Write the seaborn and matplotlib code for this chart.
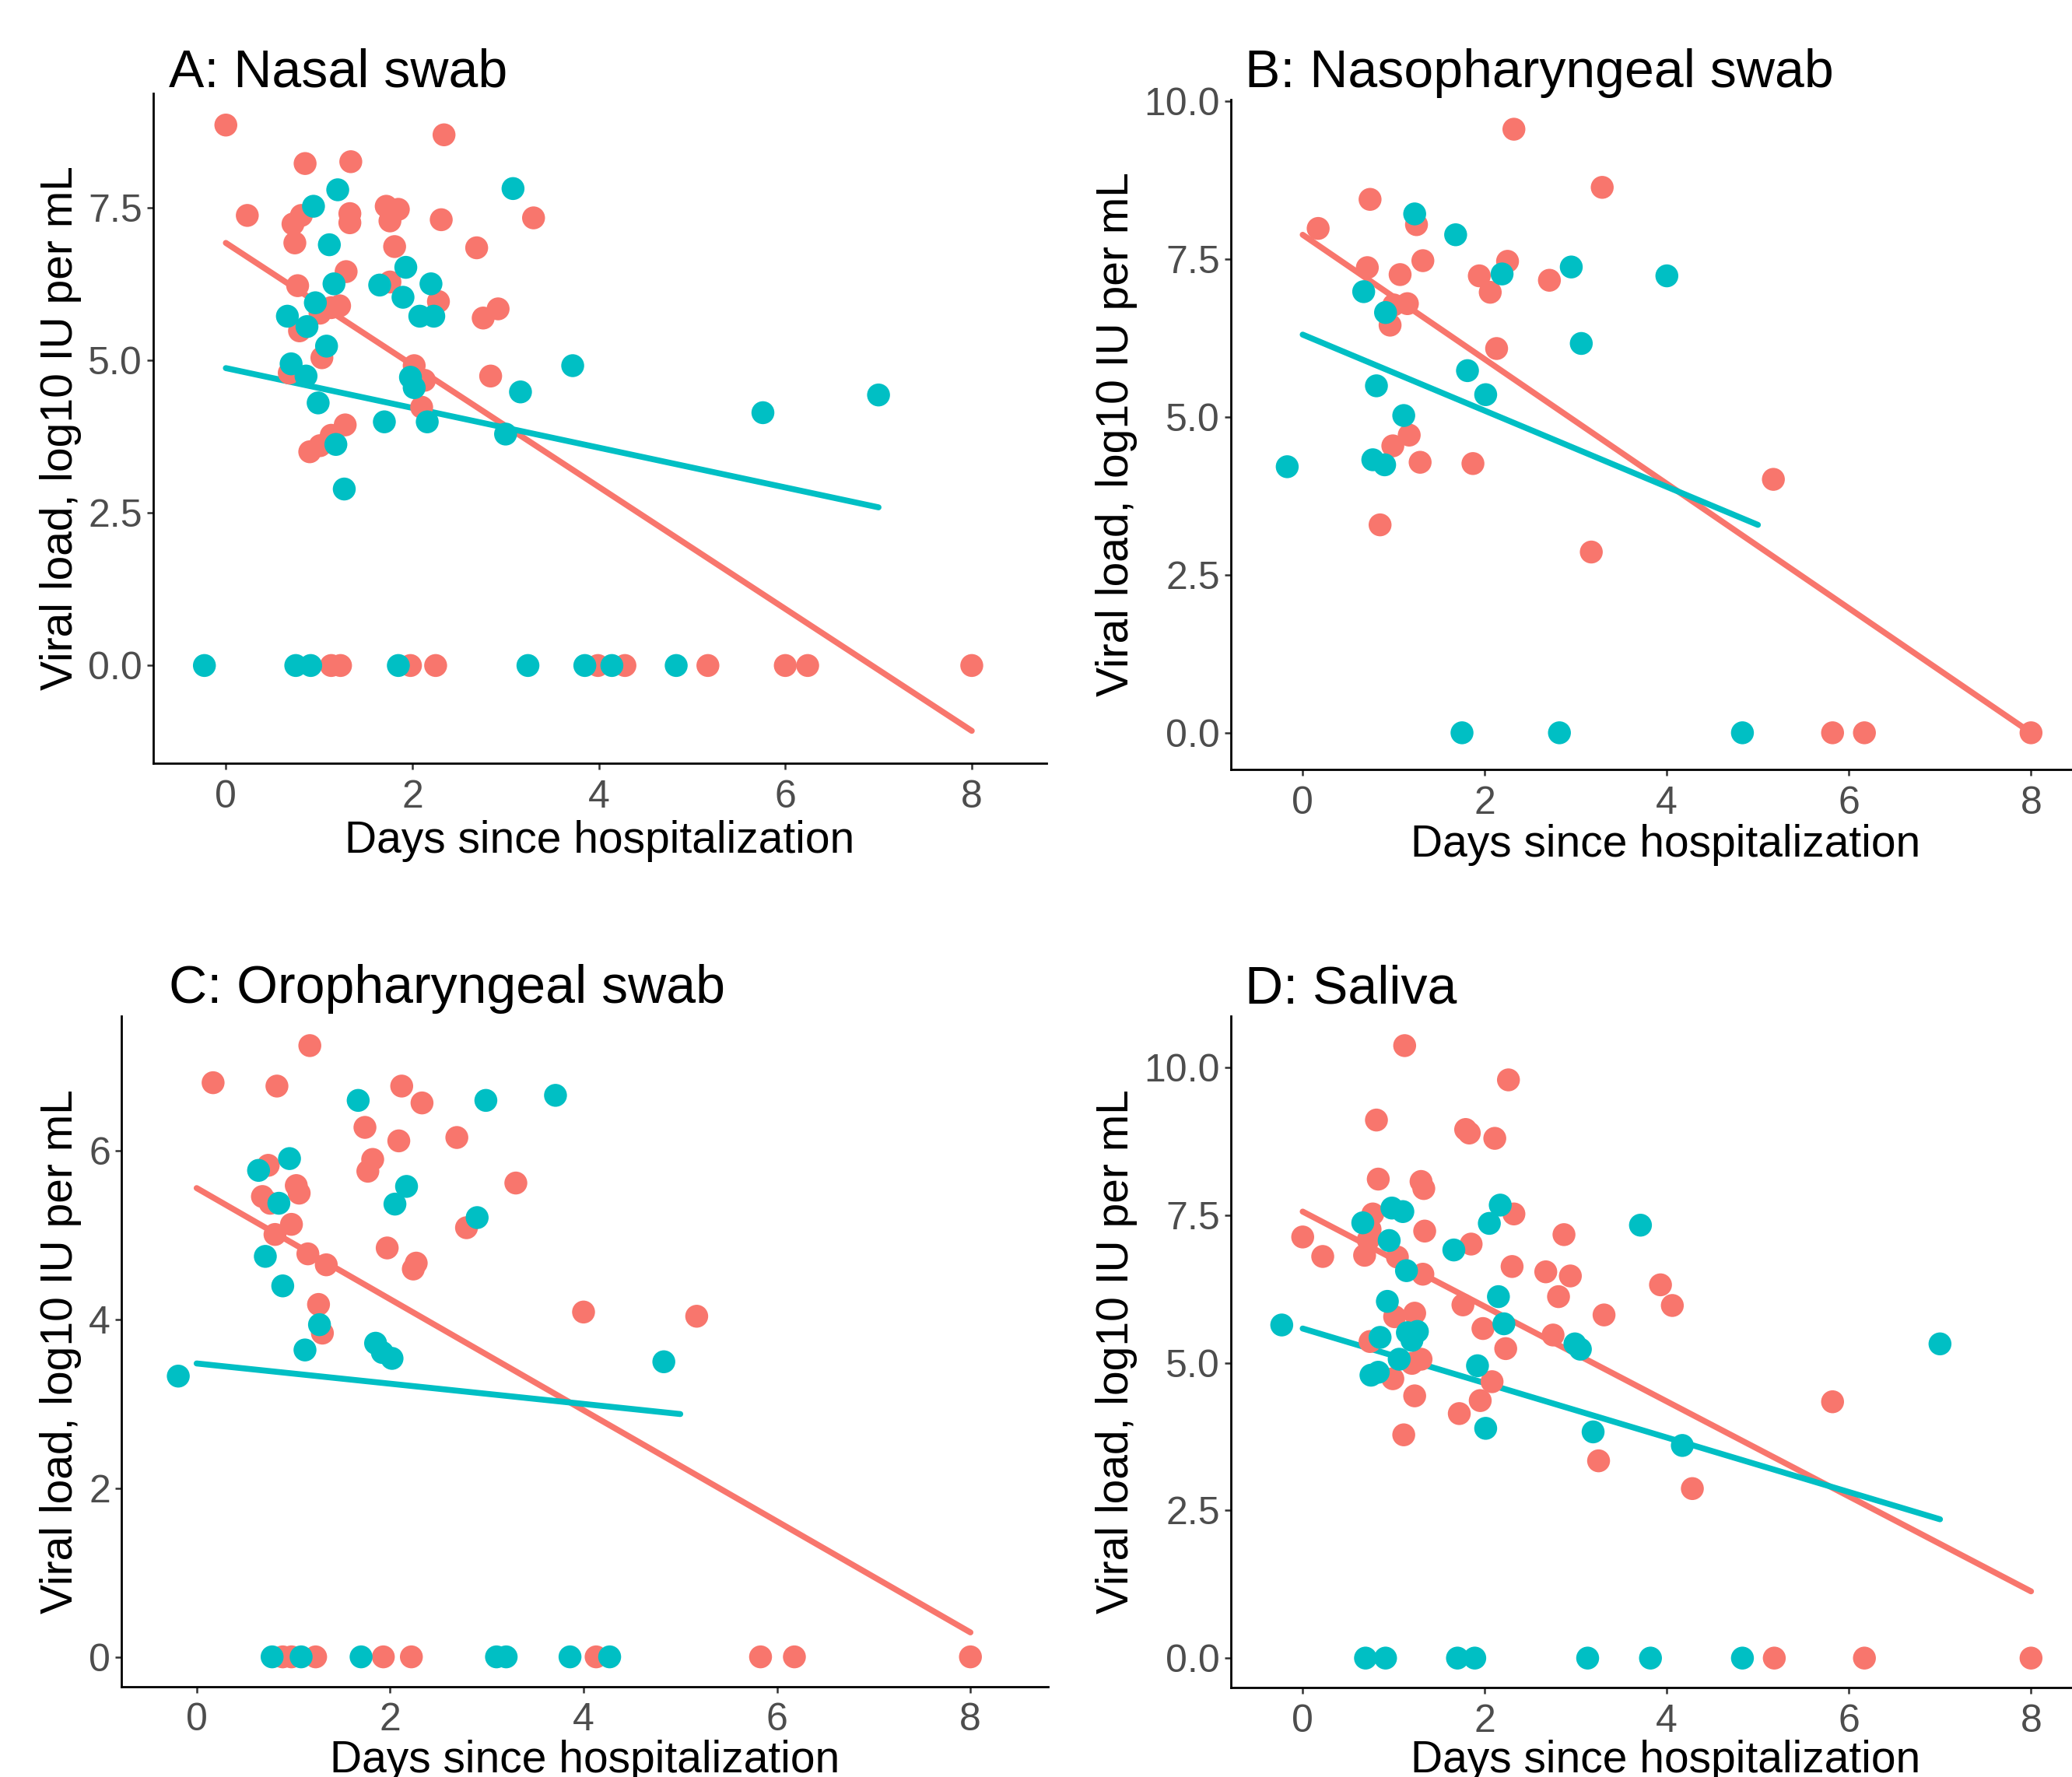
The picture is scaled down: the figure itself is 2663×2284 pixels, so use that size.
import matplotlib
matplotlib.use("Agg")
import matplotlib.pyplot as plt
import seaborn as sns
import pandas as pd

# ---------------- data ----------------
groups = ["Group 1", "Group 2"]
palette = {"Group 1": "#F8766D", "Group 2": "#00BFC4"}

# A: Nasal swab
nasal_g1_day = [0.00, 2.34, 0.85, 1.34, 0.23, 0.72, 0.81, 0.74, 1.33, 1.33, 1.72, 1.85, 1.76, 2.31, 3.30,
                1.81, 2.69, 1.29, 0.77, 1.76, 1.22, 1.13, 1.01, 0.79, 2.28, 2.76, 2.92, 1.03, 0.68, 2.02,
                2.13, 2.84, 2.10, 1.28, 1.13, 1.01, 0.90,
                1.13, 1.23, 1.98, 2.25, 3.99, 4.28, 5.17, 6.00, 6.24, 8.00]
nasal_g1_load = [8.85, 8.69, 8.22, 8.25, 7.37, 7.23, 7.37, 6.92, 7.40, 7.25, 7.52, 7.47, 7.28, 7.30, 7.33,
                 6.86, 6.84, 6.45, 6.22, 6.28, 5.89, 5.86, 5.77, 5.48, 5.96, 5.69, 5.84, 5.04, 4.79, 4.91,
                 4.67, 4.74, 4.23, 3.94, 3.77, 3.60, 3.50,
                 0, 0, 0, 0, 0, 0, 0, 0, 0, 0]
nasal_g2_day = [1.20, 0.94, 3.08, 1.11, 1.93, 1.65, 1.16, 2.20, 1.90, 0.96, 0.66, 0.87, 2.08, 2.23, 1.08,
                0.70, 0.86, 1.98, 2.02, 3.72, 3.16, 0.99, 1.70, 2.16, 3.00, 1.18, 1.27, 5.76, 7.00,
                -0.23, 0.75, 0.91, 1.85, 3.24, 3.85, 4.14, 4.83]
nasal_g2_load = [7.79, 7.52, 7.81, 6.89, 6.52, 6.23, 6.25, 6.25, 6.03, 5.94, 5.72, 5.55, 5.72, 5.72, 5.23,
                 4.94, 4.74, 4.72, 4.55, 4.91, 4.48, 4.30, 3.99, 3.99, 3.79, 3.62, 2.89, 4.14, 4.43,
                 0, 0, 0, 0, 0, 0, 0, 0]
nasal_fit_g1_day, nasal_fit_g1 = [0, 8], [6.92, -1.07]
nasal_fit_g2_day, nasal_fit_g2 = [0, 7], [4.87, 2.59]

# B: Nasopharyngeal swab
np_g1_day = [2.32, 3.29, 0.74, 0.17, 1.25, 0.71, 1.32, 1.07, 2.25, 1.94, 2.06, 2.71, 1.15, 1.00, 0.96,
             2.13, 1.17, 0.99, 1.29, 1.87, 5.17, 0.85, 3.17, 5.82, 6.17, 8.00]
np_g1_load = [9.55, 8.63, 8.44, 7.98, 8.04, 7.36, 7.47, 7.25, 7.46, 7.23, 6.97, 7.16, 6.79, 6.77, 6.45,
              6.08, 4.71, 4.54, 4.28, 4.26, 4.01, 3.29, 2.86, 0, 0, 0]
np_g2_day = [1.23, 1.68, 2.95, 2.19, 4.00, 0.67, 0.91, 3.06, 1.81, 0.81, 2.01, 1.11, -0.17, 0.77, 0.90,
             1.75, 2.82, 4.83]
np_g2_load = [8.21, 7.88, 7.37, 7.26, 7.23, 6.98, 6.65, 6.16, 5.73, 5.49, 5.35, 5.02, 4.21, 4.32, 4.24,
              0, 0, 0]
np_fit_g1_day, np_fit_g1 = [0, 8], [7.88, 0.0]
np_fit_g2_day, np_fit_g2 = [0, 5], [6.30, 3.29]

# C: Oropharyngeal swab
op_g1_day = [1.17, 0.17, 0.83, 2.12, 2.33, 1.74, 2.09, 2.69, 1.82, 1.77, 0.74, 3.30, 1.03, 1.06, 0.68,
             0.76, 0.98, 0.81, 2.79, 1.97, 1.15, 1.34, 2.27, 2.24, 1.26, 1.30, 4.00, 5.17,
             0.89, 0.98, 1.23, 1.93, 2.22, 4.13, 5.83, 6.18, 8.00]
op_g1_load = [7.25, 6.81, 6.77, 6.77, 6.57, 6.28, 6.12, 6.16, 5.90, 5.76, 5.83, 5.62, 5.59, 5.50, 5.46,
              5.38, 5.13, 5.01, 5.09, 4.85, 4.78, 4.65, 4.67, 4.60, 4.18, 3.84, 4.09, 4.04,
              0, 0, 0, 0, 0, 0, 0, 0, 0]
op_g2_day = [1.67, 2.99, 3.71, 0.96, 0.64, 2.17, 0.85, 2.05, 2.90, 0.71, 0.89, 1.27, 1.12, 1.85, 1.92,
             2.02, 4.83, -0.19, 0.78, 1.08, 1.70, 3.10, 3.20, 3.86, 4.27]
op_g2_load = [6.60, 6.60, 6.66, 5.91, 5.77, 5.58, 5.38, 5.37, 5.21, 4.75, 4.40, 3.94, 3.64, 3.72, 3.61,
              3.54, 3.50, 3.33, 0, 0, 0, 0, 0, 0, 0]
op_fit_g1_day, op_fit_g1 = [0, 8], [5.56, 0.29]
op_fit_g2_day, op_fit_g2 = [0, 5], [3.48, 2.88]

# D: Saliva
sal_g1_day = [1.12, 2.26, 0.81, 1.79, 1.83, 2.11, 0.83, 1.30, 1.33, 0.77, 2.32, 0.74, 0.72, 0.00, 1.34,
              2.87, 1.85, 0.68, 0.22, 1.04, 2.30, 1.32, 2.67, 2.94, 2.81, 3.93, 4.06, 1.76, 3.31, 1.01,
              1.23, 1.98, 2.75, 0.74, 2.23, 1.20, 1.30, 0.99, 2.08, 1.95, 1.23, 1.72, 5.82, 1.11, 3.25,
              4.28, 5.18, 6.17, 8.00]
sal_g1_load = [10.37, 9.79, 9.11, 8.95, 8.89, 8.80, 8.11, 8.07, 7.95, 7.52, 7.52, 7.26, 7.08, 7.13, 7.23,
               7.17, 7.01, 6.82, 6.80, 6.79, 6.63, 6.50, 6.54, 6.47, 6.12, 6.32, 5.97, 5.98, 5.81, 5.78,
               5.84, 5.58, 5.47, 5.36, 5.24, 4.99, 5.06, 4.73, 4.68, 4.36, 4.44, 4.14, 4.34, 3.78, 3.34,
               2.87, 0, 0, 0]
sal_g2_day = [0.98, 1.10, 2.17, 0.66, 2.05, 3.71, 0.95, 1.66, 1.14, 0.93, 2.15, 2.21, -0.23, 1.15, 1.26,
              1.20, 0.85, 2.99, 3.05, 7.00, 1.06, 1.92, 0.75, 0.83, 2.01, 3.19, 4.17,
              0.69, 0.91, 1.70, 1.89, 3.13, 3.82, 4.83]
sal_g2_load = [7.62, 7.56, 7.67, 7.37, 7.36, 7.33, 7.07, 6.91, 6.56, 6.04, 6.12, 5.66, 5.64, 5.51, 5.53,
               5.38, 5.43, 5.32, 5.23, 5.32, 5.06, 4.95, 4.79, 4.84, 3.89, 3.83, 3.60,
               0, 0, 0, 0, 0, 0, 0]
sal_fit_g1_day, sal_fit_g1 = [0, 8], [7.56, 1.13]
sal_fit_g2_day, sal_fit_g2 = [0, 7], [5.58, 2.35]

titles = ["A: Nasal swab", "B: Nasopharyngeal swab", "C: Oropharyngeal swab", "D: Saliva"]
x_label = "Days since hospitalization"
y_label = "Viral load, log10 IU per mL"
x_ticks = [0, 2, 4, 6, 8]
y_ticks_a = [0.0, 2.5, 5.0, 7.5]
y_ticks_bd = [0.0, 2.5, 5.0, 7.5, 10.0]
y_ticks_c = [0, 2, 4, 6]

# ---------------- style ----------------
sns.set_theme(style="ticks")
plt.rcParams["font.family"] = ["Liberation Sans", "DejaVu Sans"]

W, H = 2663, 2284
fig = plt.figure(figsize=(W / 100, H / 100), dpi=100)

panels = [
    dict(d1=(nasal_g1_day, nasal_g1_load), d2=(nasal_g2_day, nasal_g2_load),
         f1=(nasal_fit_g1_day, nasal_fit_g1), f2=(nasal_fit_g2_day, nasal_fit_g2),
         rect=(0.0739, 0.5705, 0.505 - 0.0739, 0.9475 - 0.5705), xlim=(-0.78, 8.80), ylim=(-1.60, 9.37),
         yticks=y_ticks_a, yfmt="{:.1f}", title_xy=(0.0813, 0.951), xl=(0.5, -0.085), yl=(-0.080, 0.5)),
    dict(d1=(np_g1_day, np_g1_load), d2=(np_g2_day, np_g2_load),
         f1=(np_fit_g1_day, np_fit_g1), f2=(np_fit_g2_day, np_fit_g2),
         rect=(0.594, 0.567, 0.406, 0.944 - 0.567), xlim=(-0.79, 8.45), ylim=(-0.58, 10.02),
         yticks=y_ticks_bd, yfmt="{:.1f}", title_xy=(0.601, 0.951), xl=(0.517, -0.081), yl=(-0.111, 0.5)),
    dict(d1=(op_g1_day, op_g1_load), d2=(op_g2_day, op_g2_load),
         f1=(op_fit_g1_day, op_fit_g1), f2=(op_fit_g2_day, op_fit_g2),
         rect=(0.0585, 0.051, 0.5057 - 0.0585, 0.4282 - 0.051), xlim=(-0.78, 8.80), ylim=(-0.35, 7.60),
         yticks=y_ticks_c, yfmt="{:.0f}", title_xy=(0.0813, 0.4356), xl=(0.5, -0.080), yl=(-0.043, 0.5)),
    dict(d1=(sal_g1_day, sal_g1_load), d2=(sal_g2_day, sal_g2_load),
         f1=(sal_fit_g1_day, sal_fit_g1), f2=(sal_fit_g2_day, sal_fit_g2),
         rect=(0.594, 0.0503, 0.406, 0.4282 - 0.0503), xlim=(-0.79, 8.45), ylim=(-0.50, 10.87),
         yticks=y_ticks_bd, yfmt="{:.1f}", title_xy=(0.601, 0.4356), xl=(0.517, -0.077), yl=(-0.111, 0.5)),
]

for p, title in zip(panels, titles):
    ax = fig.add_axes(p["rect"])
    df = pd.concat([
        pd.DataFrame({"day": p["d1"][0], "load": p["d1"][1], "group": groups[0]}),
        pd.DataFrame({"day": p["d2"][0], "load": p["d2"][1], "group": groups[1]}),
    ], ignore_index=True)
    sns.lineplot(x=p["f1"][0], y=p["f1"][1], color=palette[groups[0]], lw=5.5, ax=ax, zorder=2)
    sns.lineplot(x=p["f2"][0], y=p["f2"][1], color=palette[groups[1]], lw=5.5, ax=ax, zorder=2)
    sns.scatterplot(data=df, x="day", y="load", hue="group", palette=palette, s=450,
                    linewidth=0, legend=False, ax=ax, zorder=3, alpha=1)
    ax.set_xlim(*p["xlim"])
    ax.set_ylim(*p["ylim"])
    ax.set_xticks(x_ticks)
    ax.set_xticklabels([str(t) for t in x_ticks])
    ax.set_yticks(p["yticks"])
    ax.set_yticklabels([p["yfmt"].format(t) for t in p["yticks"]])
    for s in ["top", "right"]:
        ax.spines[s].set_visible(False)
    for s in ["left", "bottom"]:
        ax.spines[s].set_color("black")
        ax.spines[s].set_linewidth(2.0)
    ax.tick_params(axis="both", which="major", length=6, width=1.8, color="#333333",
                   labelsize=36, labelcolor="#4D4D4D")
    ax.tick_params(axis="x", pad=9)
    ax.tick_params(axis="y", pad=4)
    ax.set_xlabel(x_label, fontsize=41, color="black")
    ax.set_ylabel(y_label, fontsize=41, color="black")
    ax.xaxis.set_label_coords(*p["xl"])
    ax.yaxis.set_label_coords(*p["yl"])
    ax.grid(False)
    fig.text(p["title_xy"][0], p["title_xy"][1], title, fontsize=49, color="black",
             ha="left", va="baseline")

fig.savefig("out.png", dpi=100)
